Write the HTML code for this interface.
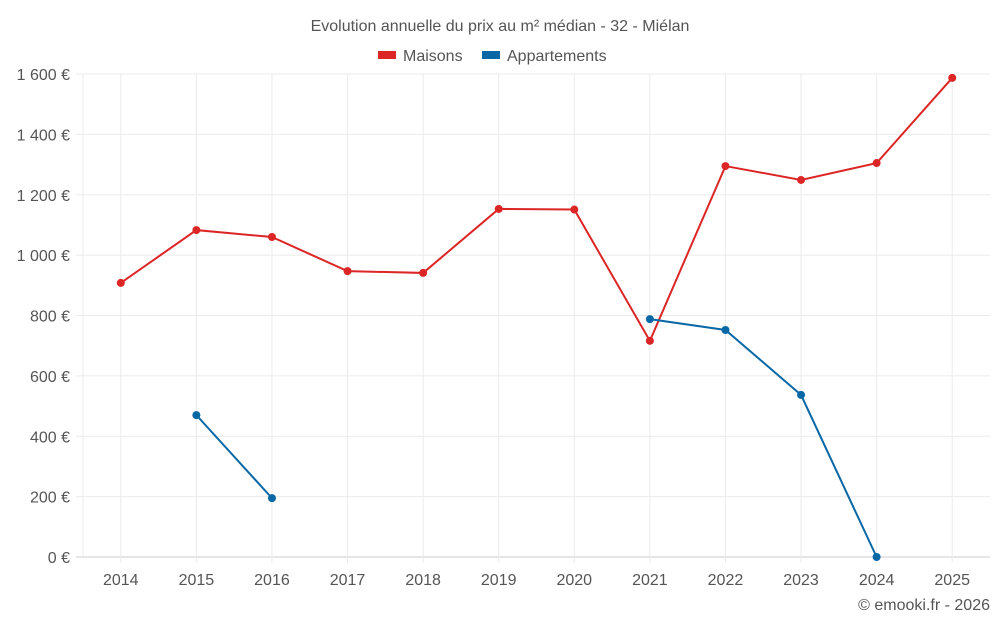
<!DOCTYPE html>
<html><head><meta charset="utf-8"><style>
body{margin:0;background:#fff;}
svg text{font-family:"Liberation Sans",sans-serif;fill:#555;}
</style></head><body>
<svg id="chart" width="1000" height="625" viewBox="0 0 1000 625" xmlns="http://www.w3.org/2000/svg">
<text x="500" y="31" font-size="16" text-anchor="middle">Evolution annuelle du prix au m² médian - 32 - Miélan</text>
<g>
<rect x="378" y="51" width="18" height="8" fill="#dc2626"/>
<text x="403" y="61" font-size="16">Maisons</text>
<rect x="482" y="51" width="18" height="8" fill="#0868a6"/>
<text x="507" y="61" font-size="16">Appartements</text>
</g>
<g id="grid"></g><g id="axes"></g><g id="series"></g>
<text x="990" y="610" font-size="16" text-anchor="end">© emooki.fr - 2026</text>
</svg>
<script>
const years=[2014,2015,2016,2017,2018,2019,2020,2021,2022,2023,2024,2025];
const maisons=[908,1083,1060,947,941,1153,1151,716,1295,1249,1305,1587];
const appartements=[null,470,195,null,null,null,null,788,752,537,0,null];
const yTicks=[0,200,400,600,800,1000,1200,1400,1600];
const yLabels=["0 €","200 €","400 €","600 €","800 €","1 000 €","1 200 €","1 400 €","1 600 €"];
const L=83,R=990,T=74,B=557,NS="http://www.w3.org/2000/svg";
const bw=(R-L)/years.length;
const x=i=>L+bw*(i+0.5);
const y=v=>B-(v/1600)*(B-T);
function mk(tag,attrs,parent){const e=document.createElementNS(NS,tag);for(const k in attrs)e.setAttribute(k,attrs[k]);document.getElementById(parent).appendChild(e);return e;}
yTicks.forEach((v,i)=>{
 const g=mk('line',{x1:L-7,x2:R,y1:y(v),y2:y(v),stroke:i==0?'#ccc':'#ebebeb'},'grid');
 
 
 const t=mk('text',{x:70,y:y(v)+6,'font-size':16,'text-anchor':'end'},'axes');t.textContent=yLabels[i];
 
 
});
mk('line',{x1:L,x2:L,y1:T,y2:B,stroke:'#ebebeb'},'grid');
years.forEach((yr,i)=>{
 const g=mk('line',{x1:x(i),x2:x(i),y1:T,y2:B+6,stroke:'#ebebeb'},'grid');
 
 
 const t=mk('text',{x:x(i),y:585,'font-size':16,'text-anchor':'middle'},'axes');t.textContent=yr;
 
 
});
function drawSeries(vals,color,name){
 let segs=[],cur=[];
 vals.forEach((v,i)=>{if(v==null){if(cur.length)segs.push(cur);cur=[];}else cur.push([x(i),y(v)]);});
 if(cur.length)segs.push(cur);
 segs.forEach(s=>{
  const p=mk('polyline',{points:s.map(q=>q.join(',')).join(' '),fill:'none',stroke:color,'stroke-width':2},'series');
  
  
 });
 vals.forEach((v,i)=>{if(v==null)return;
  const c=mk('circle',{cx:x(i),cy:y(v),r:4,fill:color},'series');
  
  
 });
}
drawSeries(maisons,'#dc2626','maisons');
drawSeries(appartements,'#0868a6','appartements');
</script>
</body></html>
